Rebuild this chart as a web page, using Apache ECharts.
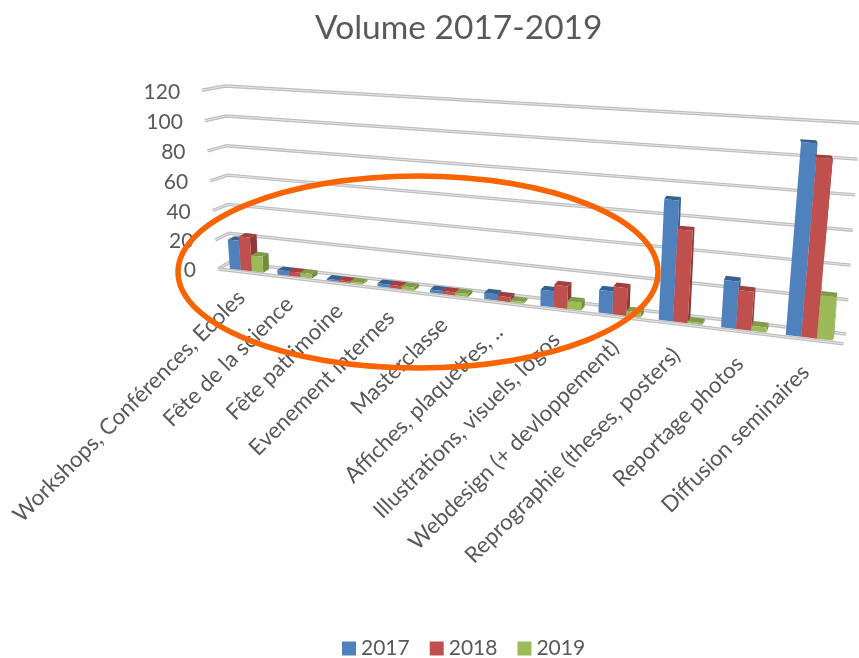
<!DOCTYPE html>
<html>
<head>
<meta charset="utf-8">
<style>
  html, body { margin: 0; padding: 0; background: #fff; }
  #main { width: 859px; height: 658px; }
</style>
<script src="https://cdn.jsdelivr.net/npm/echarts@6/dist/echarts.min.js"></script>
</head>
<body>
<div id="main"></div>
<script>
const categories = ['Workshops, Conférences, Ecoles', 'Fête de la science', 'Fête patrimoine', 'Evenement internes', 'Masterclasse', 'Affiches, plaquettes, ..', 'Illustrations, visuels, logos', 'Webdesign (+ devloppement)', 'Reprographie (theses, posters)', 'Reportage photos', 'Diffusion seminaires'];
const years = ['2017', '2018', '2019'];
const values2017 = [20, 3, 1, 2, 2, 4, 10, 14, 72, 28, 110];
const values2018 = [23, 3, 1, 2, 2, 3, 14, 17, 55, 23, 102];
const values2019 = [11, 3, 1, 2, 2, 1, 5, 3, 1, 3, 25];
const yTicks = [0, 20, 40, 60, 80, 100, 120];
const colors = ['#4F81BD', '#C0504D', '#9BBB59'];
const sideColors = ['#3A6190', '#8F3A38', '#748C42'];
const topColors = ['#37608F', '#A23E3B', '#7F9A48'];

// hidden grid: the axes give the scale, view() then tilts it like the 3D chart
const viewBox = {left: 100, top: 100, width: 600, height: 400};
const gridBox = {left: 103, top: 100, width: 596, height: 400};
const BL = [230, 262], BR = [846, 334], TL = [225, 86], TR = [860, 123];
const depthX = -15.5, depthY = 2.7, depthW = -0.016, crossX = -10;

const d1 = [BR[0] - TR[0], BR[1] - TR[1]];
const d2 = [TL[0] - TR[0], TL[1] - TR[1]];
const s = [BL[0] - BR[0] + TR[0] - TL[0], BL[1] - BR[1] + TR[1] - TL[1]];
const det = d1[0] * d2[1] - d2[0] * d1[1];
const wu = (s[0] * d2[1] - d2[0] * s[1]) / det;
const wv = (d1[0] * s[1] - s[0] * d1[1]) / det;

// u, v in 0..1 along the wall, d 0 at the wall and 1 at the front edge
function view(u, v, d) {
  const w = 1 + wu * u + wv * v + depthW * d;
  const x = BL[0] + (BR[0] * (1 + wu) - BL[0]) * u + (TL[0] * (1 + wv) - BL[0]) * v + depthX * d + crossX * v * d * (1 - 1.6 * u);
  const y = BL[1] + (BR[1] * (1 + wu) - BL[1]) * u + (TL[1] * (1 + wv) - BL[1]) * v + depthY * d;
  return [x / w, y / w];
}

function toView(pt, d) {
  const u = (pt[0] - viewBox.left) / viewBox.width;
  const v = (viewBox.top + viewBox.height - pt[1]) / viewBox.height;
  return view(u, v, d);
}

function wallLine(points) {
  const shape = {points: points};
  return [
    {type: 'polyline', shape: shape, style: {fill: 'none', stroke: '#BEBEBE', lineWidth: 3.4}},
    {type: 'polyline', shape: shape, style: {fill: 'none', stroke: '#E6E6E6', lineWidth: 1}}
  ];
}

function renderGridLine(params, api) {
  const py = api.coord([0, api.value(0)])[1];
  const v = (viewBox.top + viewBox.height - py) / viewBox.height;
  const pFront = view(0, v, 1);
  const pBack = view(0, v, 0);
  const pRight = view(1, v, 0);
  let children = wallLine([pFront, pBack, pRight]);
  if (api.value(0) === 0) {
    children = children.concat(wallLine([pFront, view(1, v, 1)]));
  }
  children.push({
    type: 'text',
    x: pFront[0] - 22,
    y: pFront[1] + 1.5,
    style: {text: String(api.value(0)), align: 'right', verticalAlign: 'middle', font: '21px Lato', fill: '#595959'}
  });
  return {type: 'group', children: children};
}

function renderCategoryLabel(params, api) {
  const i = api.value(0);
  const p = toView(api.coord([i, 0]), 1);
  return {
    type: 'text',
    x: p[0] - 3,
    y: p[1] + 22 + 0.7 * i,
    rotation: Math.PI / 4,
    style: {text: categories[i], align: 'right', verticalAlign: 'middle', font: '22.3px Lato', fill: '#595959'}
  };
}

const barShare = 0.235, frontD = 0.8, backD = 0.3;

function renderBar(params, api) {
  const k = params.seriesIndex - 2;
  const base = api.coord([api.value(0), 0]);
  const top = api.coord([api.value(0), api.value(1)]);
  const bandW = api.size([1, 0])[0];
  const x0 = base[0] + bandW * barShare * (k - 1.5);
  const x1 = x0 + bandW * barShare;
  const f0 = toView([x0, base[1]], frontD), f1 = toView([x1, base[1]], frontD);
  const f2 = toView([x1, top[1]], frontD), f3 = toView([x0, top[1]], frontD);
  const b1 = toView([x1, base[1]], backD), b2 = toView([x1, top[1]], backD), b3 = toView([x0, top[1]], backD);
  return {
    type: 'group',
    children: [
      {type: 'polygon', shape: {points: [f1, b1, b2, f2]}, style: {fill: sideColors[k]}},
      {type: 'polygon', shape: {points: [f3, f2, b2, b3]}, style: {fill: topColors[k]}},
      {type: 'polygon', shape: {points: [f0, f1, f2, f3]}, style: {fill: colors[k]}}
    ]
  };
}

function yearSeries(name, values, i) {
  return {
    name: name,
    type: 'custom',
    renderItem: renderBar,
    itemStyle: {color: colors[i]},
    encode: {x: 0, y: 1},
    data: values.map(function (v, c) { return [c, v]; })
  };
}

const chart = echarts.init(document.getElementById('main'));
chart.setOption({
  animation: false,
  title: {
    text: 'Volume 2017-2019',
    left: 310,
    top: 6,
    textStyle: {fontFamily: 'Lato', fontSize: 33.5, fontWeight: 'normal', color: '#595959'}
  },
  legend: {
    data: years,
    top: 633,
    left: 337,
    icon: 'rect',
    itemWidth: 14,
    itemHeight: 14,
    itemGap: 20,
    selectedMode: false,
    textStyle: {fontFamily: 'Lato', fontSize: 21, color: '#595959'}
  },
  grid: gridBox,
  xAxis: {type: 'category', data: categories, show: false},
  yAxis: {type: 'value', min: 0, max: 120, interval: 20, show: false},
  series: [
    {
      type: 'custom',
      renderItem: renderGridLine,
      encode: {y: 0},
      data: yTicks.map(function (t) { return [t]; })
    },
    {
      type: 'custom',
      renderItem: renderCategoryLabel,
      encode: {x: 0},
      data: categories.map(function (c, i) { return [i]; })
    },
    yearSeries(years[0], values2017, 0),
    yearSeries(years[1], values2018, 1),
    yearSeries(years[2], values2019, 2)
  ],
  graphic: [{
    type: 'ellipse',
    z: 100,
    shape: {cx: 418, cy: 272, rx: 240, ry: 96},
    style: {fill: 'none', stroke: '#F96400', lineWidth: 5.5}
  }]
});
</script>
</body>
</html>
